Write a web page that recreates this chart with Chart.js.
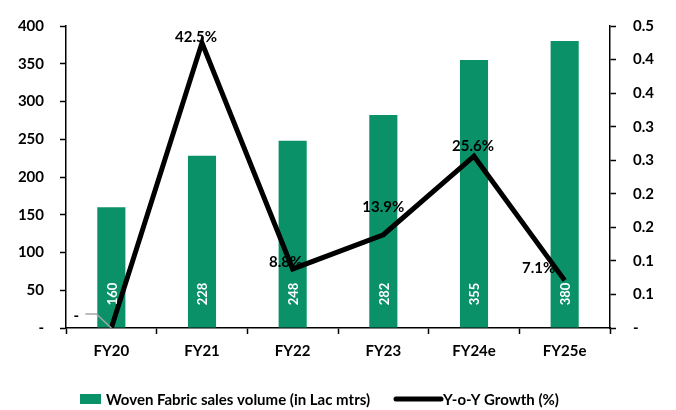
<!DOCTYPE html>
<html>
<head>
<meta charset="utf-8">
<script src="https://cdn.jsdelivr.net/npm/chart.js@4.4.1/dist/chart.umd.min.js"></script>
<style>
  html, body { margin: 0; padding: 0; background: #ffffff; }
  #wrap { width: 676px; height: 410px; position: relative; }
</style>
</head>
<body>
<div id="wrap"><canvas id="chart"></canvas></div>
<script>
const CATEGORIES = ['FY20', 'FY21', 'FY22', 'FY23', 'FY24e', 'FY25e'];
const VOLUME = [160, 228, 248, 282, 355, 380];
const GROWTH = [0, 0.425, 0.088, 0.139, 0.256, 0.071];
const GROWTH_LABELS = ['-', '42.5%', '8.8%', '13.9%', '25.6%', '7.1%'];

const VOLUME_LABEL = 'Woven Fabric sales volume (in Lac mtrs)';
const GROWTH_LABEL = 'Y-o-Y Growth (%)';

const COLORS = {
  bar: '#0a9168',
  line: '#000000',
  leader: '#a6a6a6'
};

const FONT = "Lato, 'Open Sans', sans-serif";

// label offsets relative to each line point (the Excel labels were nudged by hand)
const LABEL_OFFSETS = [[-35, -12], [-6, -6], [-7, -7], [0, -28], [-1, -10], [-26, -12]];

const labelsPlugin = {
  id: 'labels',
  afterDatasetsDraw(chart) {
    const ctx = chart.ctx;
    const pts = chart.getDatasetMeta(0).data;
    const bars = chart.getDatasetMeta(1).data;
    const yAxis = chart.scales.y;

    ctx.save();
    // values inside the bars, rotated
    ctx.fillStyle = '#ffffff';
    ctx.font = `bold 13px ${FONT}`;
    ctx.textAlign = 'center';
    ctx.textBaseline = 'middle';
    bars.forEach((b, i) => {
      ctx.save();
      ctx.translate(b.x, yAxis.bottom - 34);
      ctx.rotate(-Math.PI / 2);
      ctx.fillText(String(VOLUME[i]), 0, 1);
      ctx.restore();
    });

    // growth labels
    ctx.fillStyle = '#000000';
    ctx.font = `bold 15px ${FONT}`;
    pts.forEach((p, i) => {
      const [dx, dy] = LABEL_OFFSETS[i];
      ctx.fillText(GROWTH_LABELS[i], p.x + dx, p.y + dy);
    });

    // leader line for the first label
    const p0 = pts[0];
    ctx.strokeStyle = COLORS.leader;
    ctx.lineWidth = 1.5;
    ctx.beginPath();
    ctx.moveTo(p0.x - 26, p0.y - 14);
    ctx.lineTo(p0.x - 15, p0.y - 14);
    ctx.lineTo(p0.x, p0.y);
    ctx.stroke();
    ctx.restore();
  }
};

const legendPlugin = {
  id: 'customLegend',
  afterDraw(chart) {
    const ctx = chart.ctx;
    const y = 399;
    ctx.save();
    ctx.font = `bold 15px ${FONT}`;
    ctx.textBaseline = 'middle';
    ctx.textAlign = 'left';

    ctx.fillStyle = COLORS.bar;
    ctx.fillRect(80, y - 5, 21, 10);
    ctx.fillStyle = '#000000';
    ctx.fillText(VOLUME_LABEL, 106, y + 1);

    ctx.strokeStyle = COLORS.line;
    ctx.lineWidth = 5;
    ctx.lineCap = 'round';
    ctx.beginPath();
    ctx.moveTo(396, y);
    ctx.lineTo(441, y);
    ctx.stroke();
    ctx.fillText(GROWTH_LABEL, 443, y + 1);
    ctx.restore();
  }
};

new Chart(document.getElementById('chart'), {
  data: {
    labels: CATEGORIES,
    datasets: [
      {
        type: 'line',
        label: GROWTH_LABEL,
        data: GROWTH,
        yAxisID: 'y1',
        borderColor: COLORS.line,
        borderWidth: 5,
        pointRadius: 0,
        tension: 0,
        order: 0
      },
      {
        type: 'bar',
        label: VOLUME_LABEL,
        data: VOLUME,
        yAxisID: 'y',
        backgroundColor: COLORS.bar,
        barPercentage: 0.31,
        categoryPercentage: 1,
        order: 1
      }
    ]
  },
  options: {
    responsive: true,
    maintainAspectRatio: false,
    animation: false,
    layout: { padding: { top: 20, bottom: 0, left: 0, right: 0 } },
    plugins: {
      legend: { display: false },
      tooltip: { enabled: false }
    },
    scales: {
      x: {
        offset: true,
        grid: { offset: true, drawOnChartArea: false, tickLength: 6, color: '#000', tickWidth: 1.5 },
        border: { color: '#000', width: 1.5 },
        ticks: { color: '#000', font: { family: FONT, size: 15, weight: 'bold' }, padding: 8, maxRotation: 0 },
        afterFit: s => { s.height = 82; }
      },
      y: {
        position: 'left',
        min: 0,
        max: 400,
        grid: { drawOnChartArea: false, tickLength: 6, color: '#000', tickWidth: 1.5 },
        border: { color: '#000', width: 1.5 },
        ticks: {
          stepSize: 50,
          color: '#000',
          padding: 16,
          font: { family: FONT, size: 15, weight: 'bold' },
          callback: v => v === 0 ? '-' : v
        },
        afterFit: s => { s.width = 66; }
      },
      y1: {
        position: 'right',
        min: 0,
        max: 0.45,
        grid: { drawOnChartArea: false, tickLength: 6, color: '#000', tickWidth: 1.5 },
        border: { color: '#000', width: 1.5 },
        ticks: {
          stepSize: 0.05,
          color: '#000',
          padding: 17,
          font: { family: FONT, size: 15, weight: 'bold' },
          callback: v => v < 1e-9 ? '-' : (Math.round(v * 10 + 1e-9) / 10).toFixed(1)
        },
        afterFit: s => { s.width = 66; }
      }
    }
  },
  plugins: [labelsPlugin, legendPlugin]
});
</script>
</body>
</html>
